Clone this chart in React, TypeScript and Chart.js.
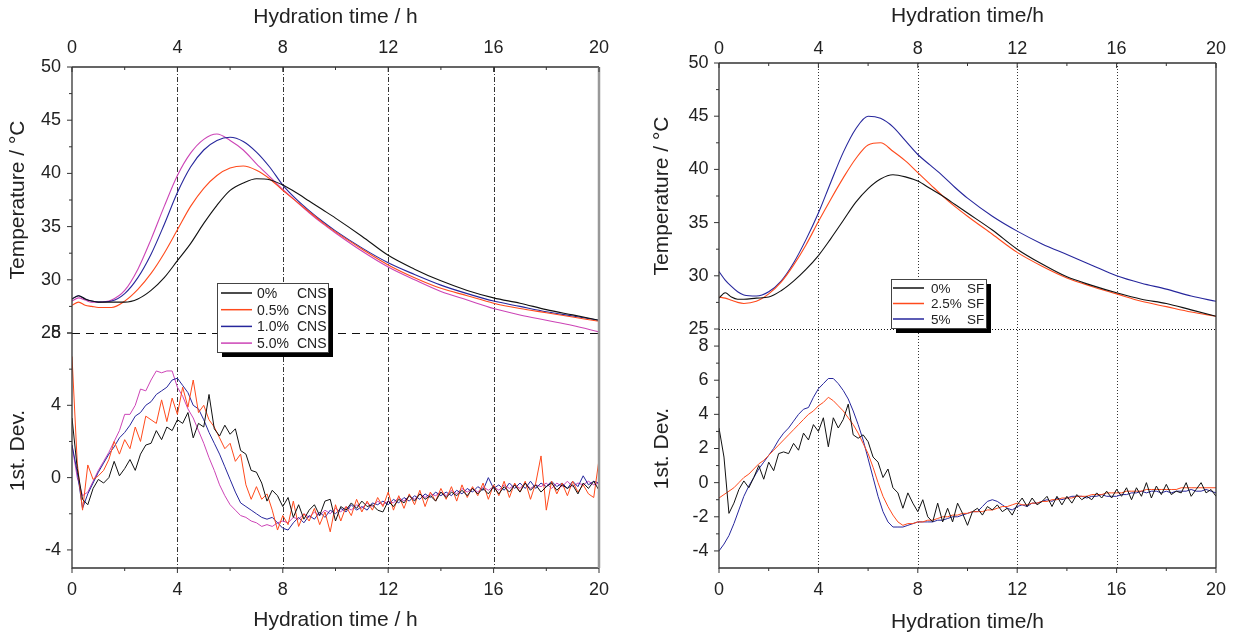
import React, { useEffect, useRef } from 'react';
import { Chart, registerables } from 'chart.js';

Chart.register(...registerables);

const FONT = '"Liberation Sans", Arial, Helvetica, sans-serif';
const TEXT = '#222';

// ---------- tick labels ----------
const X_TICKS = [0, 4, 8, 12, 16, 20];
const X_MINOR = [2, 6, 10, 14, 18];
const X_GRID = [4, 8, 12, 16];
const TEMP_TICKS = [25, 30, 35, 40, 45, 50];
const TEMP_MINOR = [27.5, 32.5, 37.5, 42.5, 47.5];
const CNS_DEV_TICKS = [-4, 0, 4, 8];
const CNS_DEV_MINOR = [-2, 2, 6];
const SF_DEV_TICKS = [-4, -2, 0, 2, 4, 6, 8];
const SF_DEV_MINOR = [-3, -1, 1, 3, 5, 7];

// ---------- categories ----------
const CNS_LEVELS = ['0%', '0.5%', '1.0%', '5.0%'];
const SF_LEVELS = ['0%', '2.5%', '5%'];

// ---------- time axes (h) ----------
const TEMP_TIME = [0, 0.25, 0.5, 0.75, 1, 1.5, 2, 2.5, 3, 3.5, 4, 4.5, 5, 5.5, 6, 6.5, 7, 7.5, 8, 8.5, 9, 9.5, 10, 11, 12, 13, 14, 15, 16, 17, 18, 19, 20];
const DEV_TIME = [
  0, 0.2, 0.4, 0.6, 0.8, 1, 1.2, 1.4, 1.6, 1.8, 2, 2.2, 2.4, 2.6, 2.8, 3, 3.2, 3.4, 3.6, 3.8,
  4, 4.2, 4.4, 4.6, 4.8, 5, 5.2, 5.4, 5.6, 5.8, 6, 6.2, 6.4, 6.6, 6.8, 7, 7.2, 7.4, 7.6, 7.8,
  8, 8.2, 8.4, 8.6, 8.8, 9, 9.2, 9.4, 9.6, 9.8, 10, 10.2, 10.4, 10.6, 10.8, 11, 11.2, 11.4, 11.6, 11.8,
  12, 12.2, 12.4, 12.6, 12.8, 13, 13.2, 13.4, 13.6, 13.8, 14, 14.2, 14.4, 14.6, 14.8, 15, 15.2, 15.4, 15.6, 15.8,
  16, 16.2, 16.4, 16.6, 16.8, 17, 17.2, 17.4, 17.6, 17.8, 18, 18.2, 18.4, 18.6, 18.8, 19, 19.2, 19.4, 19.6, 19.8, 20,
];

// ---------- CNS temperatures (°C) ----------
const CNS0_TEMP = [28.2, 28.5, 28.2, 28.0, 27.9, 27.9, 27.9, 28.2, 29.0, 30.2, 31.8, 33.4, 35.3, 37.0, 38.4, 39.1, 39.5, 39.4, 38.9, 38.2, 37.4, 36.6, 35.8, 34.1, 32.3, 31.0, 29.9, 29.0, 28.3, 27.8, 27.2, 26.7, 26.2];
const CNS05_TEMP = [27.6, 27.9, 27.6, 27.5, 27.4, 27.4, 28.0, 29.1, 30.6, 32.5, 34.7, 36.9, 38.6, 39.8, 40.5, 40.7, 40.3, 39.5, 38.4, 37.4, 36.4, 35.4, 34.5, 32.9, 31.4, 30.2, 29.2, 28.5, 27.8, 27.3, 26.9, 26.5, 26.1];
const CNS1_TEMP = [28.2, 28.5, 28.2, 28.0, 27.9, 28.0, 28.7, 30.2, 32.4, 35.2, 38.2, 40.6, 42.2, 43.1, 43.4, 43.0, 42.0, 40.6, 38.9, 37.6, 36.5, 35.5, 34.6, 33.0, 31.6, 30.5, 29.5, 28.7, 28.0, 27.5, 27.0, 26.6, 26.2];
const CNS5_TEMP = [28.0, 28.3, 28.1, 27.9, 27.9, 28.1, 29.0, 31.0, 33.8, 36.9, 39.8, 41.9, 43.2, 43.7, 43.1, 42.2, 40.9, 39.7, 38.5, 37.4, 36.3, 35.3, 34.4, 32.7, 31.2, 30.0, 28.9, 28.1, 27.3, 26.7, 26.2, 25.7, 25.1];

// ---------- SF temperatures (°C) ----------
const SF0_TEMP = [27.9, 28.4, 28.0, 27.8, 27.8, 27.9, 28.0, 28.6, 29.5, 30.6, 31.9, 33.5, 35.2, 36.9, 38.2, 39.1, 39.5, 39.3, 38.9, 38.2, 37.5, 36.7, 35.9, 34.3, 32.5, 31.1, 29.9, 29.1, 28.4, 27.8, 27.4, 26.8, 26.2];
const SF25_TEMP = [28.0, 27.9, 27.7, 27.5, 27.4, 27.6, 28.3, 29.4, 31.0, 32.9, 35.1, 37.2, 39.2, 41.0, 42.3, 42.5, 41.7, 40.8, 39.7, 38.6, 37.5, 36.5, 35.6, 33.9, 32.2, 30.9, 29.8, 29.0, 28.3, 27.6, 27.1, 26.6, 26.2];
const SF5_TEMP = [30.4, 29.6, 29.0, 28.5, 28.2, 28.1, 28.5, 29.5, 31.2, 33.4, 35.9, 38.8, 41.6, 43.8, 45.0, 44.8, 44.0, 42.7, 41.4, 40.4, 39.4, 38.3, 37.3, 35.6, 34.2, 33.0, 32.0, 31.0, 30.0, 29.3, 28.75, 28.1, 27.6];

// ---------- CNS 1st derivative ----------
const CNS0_DEV = [
  3.3, 0.5, -1.2, -1.5, -0.6, -0.1, -0.3, 0.0, 0.9, 0.1, 0.5, 1.0, 0.4, 1.3, 1.8, 1.9, 2.6, 2.1, 2.8, 2.6,
  3.2, 3.0, 3.6, 2.2, 3.0, 2.8, 4.6, 2.7, 2.3, 2.9, 2.4, 2.7, 1.5, 1.3, 0.4, 0.3, -0.3, -1.3, -0.7, -1.0,
  -1.6, -1.1, -2.2, -1.5, -2.3, -1.8, -1.5, -2.1, -1.3, -1.2, -2.4, -1.6, -1.8, -1.4, -1.7, -1.3, -1.6, -1.5, -1.8, -1.9,
  -1.3, -1.6, -1.2, -1.4, -1.0, -1.3, -0.9, -1.2, -1.0, -1.3, -0.8, -1.1, -0.8, -1.0, -0.7, -1.0, -0.6, -0.9, -0.6, -0.9,
  -0.5, -0.9, -0.5, -0.8, -0.4, -0.8, -0.3, -0.7, -0.4, -0.8, -0.5, -0.3, -0.7, -0.4, -0.6, -0.4, -0.9, -0.3, -0.6, -0.2, -0.7,
];
const CNS05_DEV = [
  6.7, 0.8, -1.8, 0.7, -0.1, 0.1, 0.4, 1.0, 2.0, 1.3, 2.1, 1.6, 2.8, 2.0, 3.4, 3.2, 3.0, 4.3, 3.1, 4.4,
  3.5, 5.0, 3.9, 5.4, 3.6, 4.0, 3.2, 2.8, 2.2, 1.6, 1.9, 0.9, 1.3, -0.4, -1.2, -0.5, -1.2, -0.9, -1.8, -2.9,
  -2.1, -2.6, -1.3, -2.7, -2.0, -2.4, -1.7, -2.6, -1.9, -3.0, -1.5, -2.4, -1.6, -2.1, -1.2, -1.9, -1.3, -1.8, -1.1, -1.6,
  -0.8, -1.8, -1.0, -1.7, -0.9, -1.5, -0.7, -1.6, -0.8, -1.3, -0.6, -1.2, -0.5, -1.3, -0.4, -1.1, -0.5, -1.0, -0.3, -1.2,
  -0.4, -1.0, -0.2, -1.1, -0.3, -0.8, -0.2, -1.2, -0.3, 1.2, -1.8, -0.2, -0.9, -0.3, -1.0, -0.2, -0.8, -0.4, -0.9, -1.1, 1.0,
];
const CNS1_DEV = [
  1.8, 0.3, -1.7, -0.9, -0.3, 0.3, 0.8, 1.3, 1.7, 2.2, 2.5, 2.9, 3.4, 3.6, 4.0, 4.2, 4.6, 4.8, 5.0, 5.4,
  5.5, 5.1, 4.7, 4.0, 3.8, 3.2, 2.5, 1.9, 1.3, 0.6, -0.1, -0.8, -1.4, -1.6, -1.8, -2.0, -2.2, -2.3, -2.2, -2.5,
  -2.8, -2.9, -2.5, -2.2, -2.5, -2.1, -2.3, -1.9, -2.2, -1.8, -2.0, -1.7, -1.9, -1.5, -1.8, -1.6, -1.8, -1.4, -1.5, -1.3,
  -1.5, -1.2, -1.4, -1.1, -1.3, -1.0, -1.2, -0.9, -1.1, -0.8, -1.0, -0.8, -1.0, -0.7, -0.9, -0.6, -0.8, -0.5, -0.7, 0.0,
  -0.6, -0.4, -0.7, -0.3, -0.6, -0.3, -0.6, -0.2, -0.6, -0.3, -0.5, -0.2, -0.5, -0.3, -0.6, -0.2, -0.5, 0.1, -0.4, -0.2, -0.3,
];
const CNS5_DEV = [
  1.8, 0.0, -1.0, -0.8, -0.2, 0.4, 0.9, 1.4, 2.0, 2.6, 3.5, 3.5, 4.0, 4.9, 4.8, 5.4, 5.9, 5.8, 5.9, 5.9,
  5.0, 4.5, 3.8, 3.3, 2.6, 1.9, 1.1, 0.4, -0.4, -1.0, -1.5, -1.8, -2.1, -2.2, -2.4, -2.5, -2.7, -2.6, -2.7, -2.5,
  -2.4, -2.5, -2.2, -2.3, -2.0, -2.2, -1.9, -2.1, -1.8, -2.0, -1.7, -1.9, -1.6, -1.8, -1.5, -1.7, -1.4, -1.6, -1.3, -1.5,
  -1.3, -1.4, -1.1, -1.3, -1.0, -1.2, -0.9, -1.1, -0.9, -1.0, -0.8, -1.0, -0.7, -0.9, -0.6, -0.8, -0.6, -0.8, -0.5, -0.7,
  -0.5, -0.7, -0.4, -0.6, -0.4, -0.6, -0.3, -0.6, -0.4, -0.5, -0.3, -0.6, -0.3, -0.5, -0.2, -0.5, -0.3, -0.4, -0.2, -0.4, -0.3,
];

// ---------- SF 1st derivative ----------
const SF0_DEV = [
  3.2, 1.5, -1.8, -1.2, -0.4, 0.1, -0.3, 0.3, 1.0, 0.2, 1.2, 0.7, 1.7, 1.8, 1.7, 2.3, 1.9, 2.9, 2.5, 3.4,
  3.0, 3.8, 2.1, 3.8, 3.2, 3.7, 4.6, 2.8, 2.6, 2.8, 2.4, 1.5, 1.2, 0.3, 0.8, -0.3, -0.6, -1.5, -0.6, -1.2,
  -1.7, -1.0, -2.0, -2.3, -1.2, -2.3, -1.5, -2.3, -1.2, -1.8, -2.5, -1.7, -1.5, -1.9, -1.4, -1.6, -1.3, -1.7, -1.5, -1.9,
  -1.3, -0.9, -1.4, -0.9, -1.3, -1.1, -0.8, -1.4, -0.8, -1.3, -0.8, -1.2, -0.7, -1.0, -0.8, -1.0, -0.6, -0.9, -0.5, -0.9,
  -0.4, -0.8, -0.3, -1.0, -0.3, -0.8, 0.0, -0.9, -0.2, -0.7, -0.1, -0.7, -0.5, -0.6, 0.0, -0.8, -0.4, 0.0, -0.6, -0.4, -0.8,
];
const SF25_DEV = [
  -0.9, -0.7, -0.5, -0.3, 0.0, 0.3, 0.5, 0.8, 1.1, 1.3, 1.6, 1.9, 2.2, 2.5, 2.8, 3.1, 3.4, 3.7, 4.0, 4.2,
  4.5, 4.7, 5.0, 4.8, 4.5, 4.2, 3.8, 3.4, 2.9, 2.3, 1.7, 0.9, 0.0, -0.8, -1.4, -1.9, -2.3, -2.5, -2.4, -2.4,
  -2.3, -2.3, -2.2, -2.2, -2.1, -2.0, -2.0, -1.9, -1.9, -1.8, -1.8, -1.7, -1.7, -1.7, -1.6, -1.6, -1.5, -1.4, -1.4, -1.3,
  -1.2, -1.3, -1.3, -1.2, -1.2, -1.1, -1.1, -1.0, -1.0, -0.9, -0.9, -0.9, -0.8, -0.8, -0.8, -0.7, -0.7, -0.7, -0.6, -0.6,
  -0.6, -0.6, -0.5, -0.5, -0.5, -0.5, -0.4, -0.4, -0.4, -0.4, -0.4, -0.4, -0.4, -0.3, -0.3, -0.3, -0.3, -0.3, -0.3, -0.3, -0.3,
];
const SF5_DEV = [
  -4.0, -3.6, -3.1, -2.4, -1.6, -0.8, -0.2, 0.3, 0.8, 1.2, 1.6, 2.0, 2.5, 2.9, 3.2, 3.6, 4.0, 4.3, 4.4, 5.0,
  5.5, 5.8, 6.1, 6.1, 5.8, 5.4, 4.9, 4.2, 3.4, 2.5, 1.4, 0.3, -0.8, -1.7, -2.3, -2.6, -2.6, -2.6, -2.5, -2.4,
  -2.3, -2.3, -2.3, -2.3, -2.2, -2.2, -2.1, -2.0, -2.0, -1.9, -1.8, -1.7, -1.7, -1.4, -1.1, -1.0, -1.1, -1.3, -1.5, -1.6,
  -1.4, -1.3, -1.4, -1.2, -1.2, -1.1, -1.0, -1.1, -0.9, -1.0, -0.9, -0.8, -0.8, -0.8, -0.9, -0.8, -0.8, -0.7, -0.8, -0.8,
  -0.8, -0.7, -0.7, -0.6, -0.6, -0.5, -0.6, -0.5, -0.5, -0.6, -0.5, -0.6, -0.5, -0.5, -0.5, -0.4, -0.5, -0.5, -0.4, -0.5, -0.6,
];

const BLACK = '#111111';
const ORANGE = '#ff4a1c';
const BLUE = '#26269c';
const MAGENTA = '#cc44b6';

const pts = (xs: number[], ys: number[]) => ys.map((y, i) => ({ x: xs[i], y }));

const tempDs = (label: string, color: string, ys: number[]) => ({
  label,
  data: pts(TEMP_TIME, ys),
  borderColor: color,
  backgroundColor: color,
  borderWidth: 1.1,
  pointRadius: 0,
  cubicInterpolationMode: 'monotone' as const,
  xAxisID: 'xB',
  yAxisID: 'yT',
});
const devDs = (label: string, color: string, ys: number[]) => ({
  label,
  data: pts(DEV_TIME, ys),
  borderColor: color,
  backgroundColor: color,
  borderWidth: 1,
  pointRadius: 0,
  tension: 0,
  xAxisID: 'xB',
  yAxisID: 'yD',
});

const decoPlugin = {
  id: 'panelDeco',
  beforeDatasetsDraw(chart: any, _a: any, o: any) {
    const { ctx, chartArea: ca, scales } = chart;
    const xb = scales.xB;
    const yT = scales.yT;
    ctx.save();
    ctx.lineWidth = 1;
    ctx.strokeStyle = o.gridColor;
    ctx.setLineDash(o.gridDash);
    for (const v of X_GRID) {
      const px = Math.round(xb.getPixelForValue(v)) + 0.5;
      ctx.beginPath();
      ctx.moveTo(px, ca.top);
      ctx.lineTo(px, ca.bottom);
      ctx.stroke();
    }
    ctx.strokeStyle = o.boundaryColor;
    ctx.lineWidth = o.boundaryWidth;
    ctx.setLineDash(o.boundaryDash);
    const py = Math.round(yT.getPixelForValue(TEMP_TICKS[0])) + 0.5;
    ctx.beginPath();
    ctx.moveTo(ca.left, py);
    ctx.lineTo(ca.right, py);
    ctx.stroke();
    ctx.restore();
  },
  afterDatasetsDraw(chart: any, _a: any, o: any) {
    const { ctx, chartArea: ca, scales } = chart;
    const xb = scales.xB;
    const yT = scales.yT;
    const yD = scales.yD;
    ctx.save();
    ctx.setLineDash([]);
    // frame
    ctx.strokeStyle = '#333';
    ctx.lineWidth = 1.3;
    ctx.beginPath();
    ctx.moveTo(ca.left, ca.top);
    ctx.lineTo(ca.right, ca.top);
    ctx.moveTo(ca.left, ca.top);
    ctx.lineTo(ca.left, ca.bottom);
    ctx.lineTo(ca.right, ca.bottom);
    ctx.stroke();
    ctx.strokeStyle = o.rightColor;
    ctx.lineWidth = o.rightWidth;
    ctx.beginPath();
    ctx.moveTo(ca.right, ca.top);
    ctx.lineTo(ca.right, ca.bottom);
    ctx.stroke();
    // ticks
    ctx.strokeStyle = '#333';
    ctx.lineWidth = 1;
    const hTick = (v: number, len: number) => {
      const px = xb.getPixelForValue(v);
      ctx.beginPath();
      ctx.moveTo(px, ca.top);
      ctx.lineTo(px, ca.top + len);
      ctx.moveTo(px, ca.bottom);
      ctx.lineTo(px, ca.bottom + len);
      ctx.stroke();
    };
    X_TICKS.forEach((v) => hTick(v, 5));
    X_MINOR.forEach((v) => hTick(v, 3));
    const vTick = (scale: any, v: number, len: number) => {
      const py = scale.getPixelForValue(v);
      ctx.beginPath();
      ctx.moveTo(ca.left - len, py);
      ctx.lineTo(ca.left, py);
      ctx.stroke();
    };
    TEMP_TICKS.forEach((v) => vTick(yT, v, 5));
    TEMP_MINOR.forEach((v) => vTick(yT, v, 3));
    o.devTicks.forEach((v: number) => vTick(yD, v, 5));
    o.devMinor.forEach((v: number) => vTick(yD, v, 3));

    // legend
    const L = o.legend;
    const items = chart.data.datasets.filter((d: any) => d.yAxisID === 'yT');
    ctx.fillStyle = '#000';
    ctx.fillRect(L.x + L.shadow, L.y + L.shadow, L.w, L.h);
    ctx.fillStyle = '#fff';
    ctx.fillRect(L.x, L.y, L.w, L.h);
    ctx.strokeStyle = '#444';
    ctx.lineWidth = 1;
    ctx.strokeRect(L.x + 0.5, L.y + 0.5, L.w, L.h);
    ctx.font = `${L.font}px ${FONT}`;
    ctx.textBaseline = 'middle';
    ctx.textAlign = 'left';
    items.forEach((d: any, i: number) => {
      const y = L.y + L.first + i * L.rowH;
      ctx.strokeStyle = d.borderColor;
      ctx.lineWidth = 1.5;
      ctx.beginPath();
      ctx.moveTo(L.x + L.s0, y);
      ctx.lineTo(L.x + L.s1, y);
      ctx.stroke();
      const parts = String(d.label).split(' ');
      ctx.fillStyle = TEXT;
      ctx.fillText(parts[0], L.x + L.c1, y + 1);
      ctx.fillText(parts[1], L.x + L.c2, y + 1);
    });
    ctx.restore();
  },
};

type PanelCfg = {
  topTitle: string;
  bottomTitle: string;
  datasets: any[];
  devMin: number;
  devMax: number;
  devTicks: number[];
  devMinor: number[];
  tempWeight: number;
  devWeight: number;
  yWidth: number;
  topH: number;
  bottomH: number;
  topTickPad: number;
  topTitlePad: number;
  bottomTickPad: number;
  bottomTitlePad: number;
  yTickPad: number;
  yTitlePad: number;
  gridDash: number[];
  boundaryDash: number[];
  boundaryWidth: number;
  rightColor: string;
  rightWidth: number;
  legend: any;
};

function buildConfig(p: PanelCfg): any {
  const tickFont = { family: FONT, size: 18 };
  const titleFont = { family: FONT, size: 21 };
  const setTicks = (list: number[]) => (axis: any) => {
    axis.ticks = list.map((v) => ({ value: v }));
  };
  const xCommon = {
    type: 'linear',
    min: 0,
    max: 20,
    afterBuildTicks: setTicks(X_TICKS),
    grid: { display: false, drawTicks: false },
    border: { display: false },
  };
  return {
    type: 'line',
    data: { datasets: p.datasets },
    options: {
      animation: false,
      responsive: false,
      maintainAspectRatio: false,
      devicePixelRatio: 1,
      layout: { padding: { left: 0, right: 18, top: 0, bottom: 0 } },
      plugins: {
        legend: { display: false },
        tooltip: { enabled: false },
        panelDeco: {
          gridColor: '#333',
          gridDash: p.gridDash,
          boundaryColor: '#111',
          boundaryDash: p.boundaryDash,
          boundaryWidth: p.boundaryWidth,
          rightColor: p.rightColor,
          rightWidth: p.rightWidth,
          devTicks: p.devTicks,
          devMinor: p.devMinor,
          legend: p.legend,
        },
      },
      scales: {
        xT: {
          ...xCommon,
          position: 'top',
          afterFit: (s: any) => { s.height = p.topH; s.paddingLeft = 0; s.paddingRight = 0; },
          ticks: { font: tickFont, color: TEXT, padding: p.topTickPad, maxRotation: 0, autoSkip: false },
          title: { display: true, text: p.topTitle, font: titleFont, color: TEXT, padding: { top: p.topTitlePad, bottom: 0 } },
        },
        xB: {
          ...xCommon,
          position: 'bottom',
          afterFit: (s: any) => { s.height = p.bottomH; s.paddingLeft = 0; s.paddingRight = 0; },
          ticks: { font: tickFont, color: TEXT, padding: p.bottomTickPad, maxRotation: 0, autoSkip: false },
          title: { display: true, text: p.bottomTitle, font: titleFont, color: TEXT, padding: { top: 0, bottom: p.bottomTitlePad } },
        },
        yD: {
          type: 'linear',
          position: 'left',
          stack: 'panel',
          stackWeight: p.devWeight,
          min: p.devMin,
          max: p.devMax,
          afterBuildTicks: setTicks(p.devTicks),
          afterFit: (s: any) => { s.width = p.yWidth; s.paddingTop = 0; s.paddingBottom = 0; },
          grid: { display: false, drawTicks: false },
          border: { display: false },
          ticks: { font: tickFont, color: TEXT, padding: p.yTickPad, autoSkip: false },
          title: { display: true, text: '1st. Dev.', font: titleFont, color: TEXT, padding: { top: p.yTitlePad, bottom: 0 } },
        },
        yT: {
          type: 'linear',
          position: 'left',
          stack: 'panel',
          stackWeight: p.tempWeight,
          min: 25,
          max: 50,
          afterBuildTicks: setTicks(TEMP_TICKS),
          afterFit: (s: any) => { s.width = p.yWidth; s.paddingTop = 0; s.paddingBottom = 0; },
          grid: { display: false, drawTicks: false },
          border: { display: false },
          ticks: { font: tickFont, color: TEXT, padding: p.yTickPad, autoSkip: false },
          title: { display: true, text: 'Temperature / °C', font: titleFont, color: TEXT, padding: { top: p.yTitlePad, bottom: 0 } },
        },
      },
    },
    plugins: [decoPlugin],
  };
}

const cnsPanel: PanelCfg = {
  topTitle: 'Hydration time / h',
  bottomTitle: 'Hydration time / h',
  datasets: [
    tempDs(`${CNS_LEVELS[0]} CNS`, BLACK, CNS0_TEMP),
    tempDs(`${CNS_LEVELS[1]} CNS`, ORANGE, CNS05_TEMP),
    tempDs(`${CNS_LEVELS[2]} CNS`, BLUE, CNS1_TEMP),
    tempDs(`${CNS_LEVELS[3]} CNS`, MAGENTA, CNS5_TEMP),
    devDs(`${CNS_LEVELS[0]} CNS dev`, BLACK, CNS0_DEV),
    devDs(`${CNS_LEVELS[1]} CNS dev`, ORANGE, CNS05_DEV),
    devDs(`${CNS_LEVELS[2]} CNS dev`, BLUE, CNS1_DEV),
    devDs(`${CNS_LEVELS[3]} CNS dev`, MAGENTA, CNS5_DEV),
  ],
  devMin: -5,
  devMax: 8,
  devTicks: CNS_DEV_TICKS,
  devMinor: CNS_DEV_MINOR,
  tempWeight: 266,
  devWeight: 235,
  yWidth: 72,
  topH: 67,
  bottomH: 68,
  topTickPad: 8,
  topTitlePad: 4.5,
  bottomTickPad: 11,
  bottomTitlePad: 3.4,
  yTickPad: 11,
  yTitlePad: 5.4,
  gridDash: [5, 2, 1, 2],
  boundaryDash: [8, 6],
  boundaryWidth: 1.2,
  rightColor: '#999',
  rightWidth: 2.5,
  legend: { x: 217, y: 283, w: 111, h: 69, shadow: 5, first: 10, rowH: 16.7, s0: 4, s1: 35, c1: 40, c2: 80, font: 14 },
};

const sfPanel: PanelCfg = {
  topTitle: 'Hydration time/h',
  bottomTitle: 'Hydration time/h',
  datasets: [
    tempDs(`${SF_LEVELS[0]} SF`, BLACK, SF0_TEMP),
    tempDs(`${SF_LEVELS[1]} SF`, ORANGE, SF25_TEMP),
    tempDs(`${SF_LEVELS[2]} SF`, BLUE, SF5_TEMP),
    devDs(`${SF_LEVELS[0]} SF dev`, BLACK, SF0_DEV),
    devDs(`${SF_LEVELS[1]} SF dev`, ORANGE, SF25_DEV),
    devDs(`${SF_LEVELS[2]} SF dev`, BLUE, SF5_DEV),
  ],
  devMin: -5,
  devMax: 9,
  devTicks: SF_DEV_TICKS,
  devMinor: SF_DEV_MINOR,
  tempWeight: 266,
  devWeight: 239,
  yWidth: 102,
  topH: 63,
  bottomH: 68,
  topTickPad: 3.2,
  topTitlePad: 3.4,
  bottomTickPad: 11,
  bottomTitlePad: 1.4,
  yTickPad: 10.5,
  yTitlePad: 32.4,
  gridDash: [1, 2],
  boundaryDash: [1, 2],
  boundaryWidth: 1,
  rightColor: '#333',
  rightWidth: 1.3,
  legend: { x: 274, y: 279, w: 95, h: 49, shadow: 5, first: 9, rowH: 15.5, s0: 2, s1: 33, c1: 40, c2: 76, font: 13.5 },
};

function Panel({ cfg, left }: { cfg: PanelCfg; left: number }) {
  const ref = useRef<HTMLCanvasElement | null>(null);
  useEffect(() => {
    if (!ref.current) return;
    const chart = new Chart(ref.current, buildConfig(cfg));
    return () => chart.destroy();
  }, [cfg]);
  return (
    <canvas
      ref={ref}
      width={617}
      height={636}
      style={{ position: 'absolute', left, top: 0, width: 617, height: 636 }}
    />
  );
}

export default function App() {
  return (
    <div style={{ position: 'fixed', left: 0, top: 0, width: 1234, height: 636, background: '#fff', overflow: 'hidden' }}>
      <Panel cfg={cnsPanel} left={0} />
      <Panel cfg={sfPanel} left={617} />
    </div>
  );
}
